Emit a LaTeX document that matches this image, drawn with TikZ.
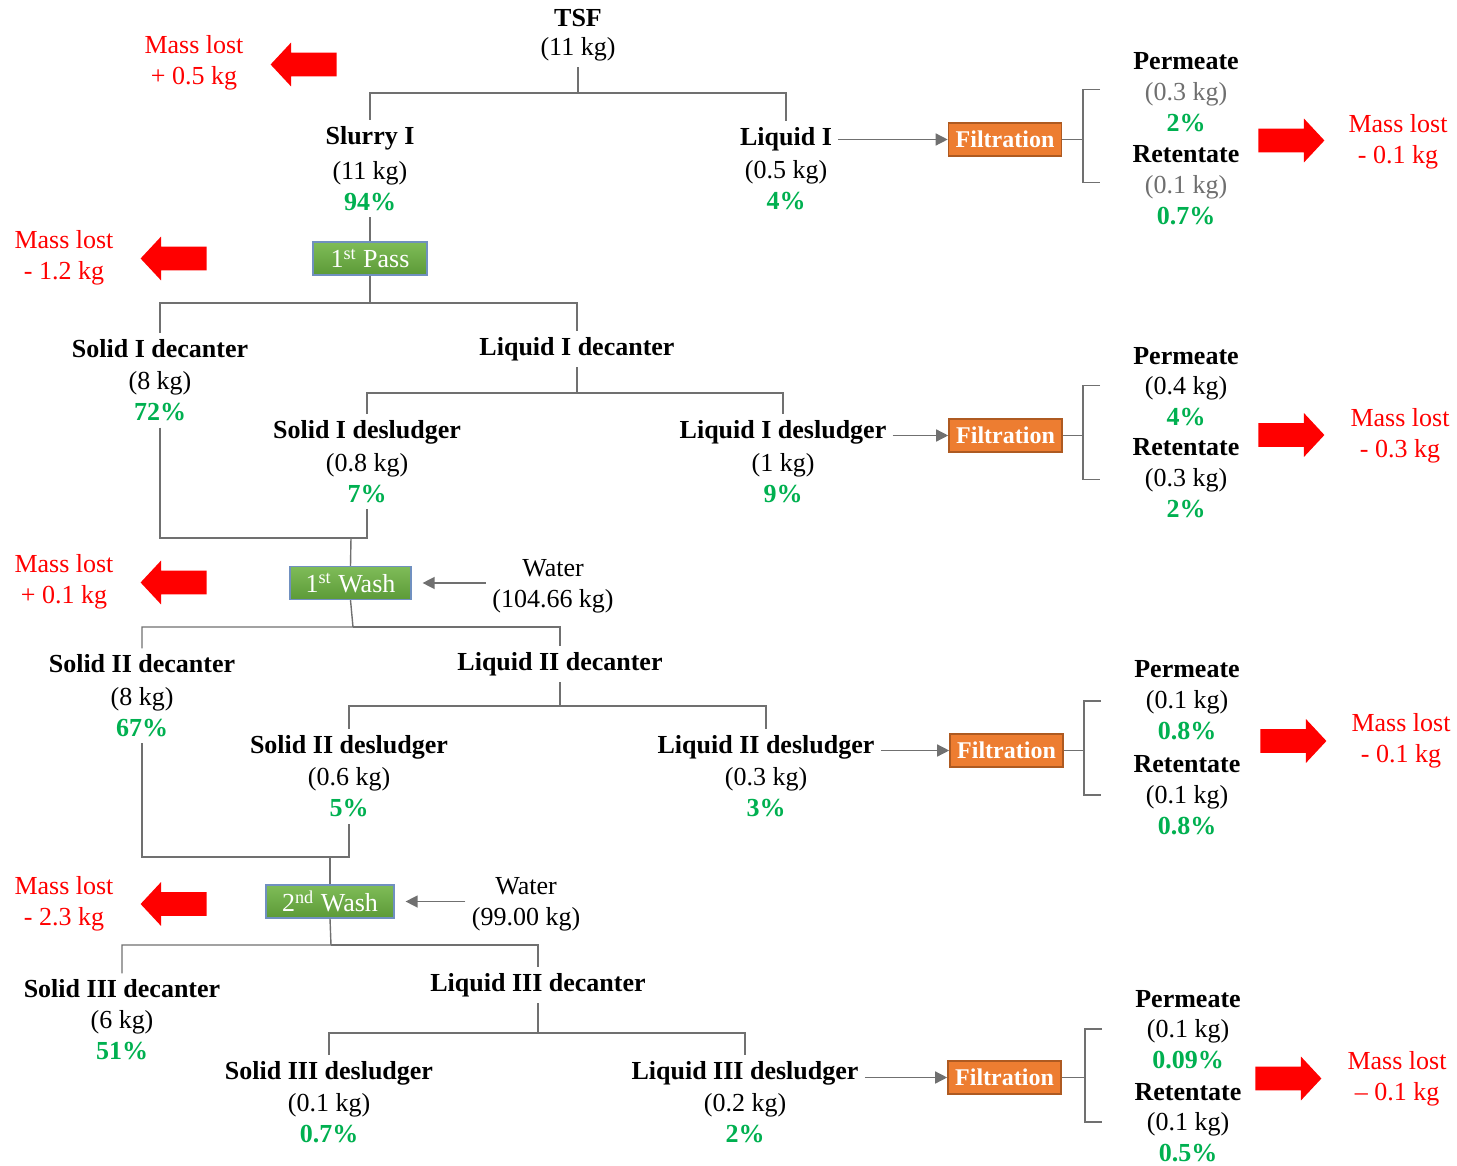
\documentclass[tikz,border=0pt]{standalone}
\usepackage{fontspec}
\setmainfont{Liberation Serif}
\usepackage{xcolor}
\usetikzlibrary{arrows.meta,positioning,shapes.arrows}
\definecolor{pctgreen}{HTML}{00B050}
\definecolor{lossred}{HTML}{FF0000}
\definecolor{linegray}{HTML}{707070}
\definecolor{kggray}{HTML}{6F6F6F}
\definecolor{passtop}{HTML}{7FBC58}
\definecolor{passbot}{HTML}{5C9A37}
\definecolor{passedge}{HTML}{7090C0}
\definecolor{filtorange}{HTML}{ED7D31}
\definecolor{filtedge}{HTML}{AE5A21}
\newcommand{\pctval}[1]{\textcolor{pctgreen}{\textbf{#1}}}

\begin{document}
\fontsize{13}{15.5}\selectfont
\begin{tikzpicture}[
  x=0.5pt, y=-0.5pt,
  link/.style={draw=linegray, line width=0.7pt},
  flow/.style={link, -{Triangle[length=6pt, width=6pt]}},
  stream/.style={font=\bfseries, inner sep=3pt},
  amount/.style={align=center, inner sep=3pt},
  stagebox/.style={rectangle, draw=passedge, line width=0.6pt, top color=passtop, bottom color=passbot, text=white, minimum height=16.5pt, inner sep=0pt},
  filtbox/.style={rectangle, draw=filtedge, line width=0.8pt, fill=filtorange, text=white, font=\fontsize{12}{14}\selectfont\bfseries, minimum width=56.5pt, minimum height=16.5pt, inner sep=0pt},
  losstext/.style={align=center, text=lossred, inner sep=2pt},
  lossright/.style={single arrow, fill=lossred, anchor=tail, inner xsep=0pt, inner ysep=5.75pt, minimum height=33pt, single arrow head extend=5pt, single arrow tip angle=94},
  lossleft/.style={lossright, shape border rotate=180}
]
\useasboundingbox (0,0) rectangle (1457,1166);

\node[stream] (tsf) at (578,18) {TSF};
\node[amount] (tsfv) at (578,49) {(11 kg)};
\coordinate (j0) at (578,93);
\node[stream] (slurry) at (370,138) {Slurry I};
\node[amount] (slurryv) at (370,186) {(11 kg)\\\pctval{94\%}};
\node[stagebox, minimum width=57pt] (pass1) at (370,258.5) {1\textsuperscript{st} Pass};
\node[stream] (liq1) at (786,139) {Liquid I};
\node[amount] (liq1v) at (786,185) {(0.5 kg)\\\pctval{4\%}};
\node[filtbox] (filt1) at (1005,139.5) {Filtration};
\coordinate (k1) at (1083,139.5);
\node[stream] (perm1) at (1186,61) {Permeate};
\node[amount, text=kggray] (perm1v) at (1186,107) {(0.3 kg)\\\pctval{2\%}};
\node[stream] (ret1) at (1186,154) {Retentate};
\node[amount, text=kggray] (ret1v) at (1186,200) {(0.1 kg)\\\pctval{0.7\%}};
\node[lossright] (out1) at (1258,140.5) {};
\node[losstext] (lost1) at (1398,142) {Mass lost\\- 0.1 kg};
\node[lossleft] (inA) at (337,64.5) {};
\node[losstext] (lostA) at (194,63) {Mass lost\\+ 0.5 kg};
\node[lossleft] (inB) at (207,258.5) {};
\node[losstext] (lostB) at (64,257.5) {Mass lost\\- 1.2 kg};

\node[stream] (sd1) at (160,349) {Solid I decanter};
\node[amount] (sd1v) at (160,396.5) {(8 kg)\\\pctval{72\%}};
\coordinate (j1) at (370,303);
\node[stream] (ld1) at (577,349) {Liquid I decanter};
\coordinate (j2) at (577,393);
\node[stream] (sds1) at (367,432) {Solid I desludger};
\node[amount] (sds1v) at (367,478) {(0.8 kg)\\\pctval{7\%}};
\node[stream] (lds1) at (783,432) {Liquid I desludger};
\node[amount] (lds1v) at (783,478.5) {(1 kg)\\\pctval{9\%}};
\node[filtbox] (filt2) at (1005.5,435.5) {Filtration};
\coordinate (k2) at (1083,435.5);
\node[stream] (perm2) at (1186,356) {Permeate};
\node[amount] (perm2v) at (1186,401) {(0.4 kg)\\\pctval{4\%}};
\node[stream] (ret2) at (1186,447) {Retentate};
\node[amount] (ret2v) at (1186,493) {(0.3 kg)\\\pctval{2\%}};
\node[lossright] (out2) at (1258,435) {};
\node[losstext] (lost2) at (1400,436) {Mass lost\\- 0.3 kg};

\coordinate (j3) at (351,538);
\node[stagebox, minimum width=60.5pt] (wash1) at (350.5,583) {1\textsuperscript{st} Wash};
\node[amount] (water1) at (553,586.5) {Water\\(104.66 kg)};
\node[lossleft] (inC) at (207,582.5) {};
\node[losstext] (lostC) at (64,582) {Mass lost\\+ 0.1 kg};
\coordinate (j4) at (353,627);
\node[stream] (sd2) at (142,664) {Solid II decanter};
\node[amount] (sd2v) at (142,712) {(8 kg)\\\pctval{67\%}};
\node[stream] (ld2) at (560,664) {Liquid II decanter};
\coordinate (j5) at (560,706);
\node[stream] (sds2) at (349,747) {Solid II desludger};
\node[amount] (sds2v) at (349,792.5) {(0.6 kg)\\\pctval{5\%}};
\node[stream] (lds2) at (766,747) {Liquid II desludger};
\node[amount] (lds2v) at (766,792) {(0.3 kg)\\\pctval{3\%}};
\node[filtbox] (filt3) at (1006.5,750.5) {Filtration};
\coordinate (k3) at (1084,750.5);
\node[stream] (perm3) at (1187,669) {Permeate};
\node[amount] (perm3v) at (1187,715.5) {(0.1 kg)\\\pctval{0.8\%}};
\node[stream] (ret3) at (1187,764) {Retentate};
\node[amount] (ret3v) at (1187,810.5) {(0.1 kg)\\\pctval{0.8\%}};
\node[lossright] (out3) at (1260,741) {};
\node[losstext] (lost3) at (1401,741) {Mass lost\\- 0.1 kg};

\coordinate (j6) at (330,857);
\node[stagebox, minimum width=64pt] (wash2) at (330,901.5) {2\textsuperscript{nd} Wash};
\node[amount] (water2) at (526,904.5) {Water\\(99.00 kg)};
\node[lossleft] (inD) at (207,904) {};
\node[losstext] (lostD) at (64,903.5) {Mass lost\\- 2.3 kg};
\coordinate (j7) at (331,945);
\node[stream] (sd3) at (122,989) {Solid III decanter};
\node[amount] (sd3v) at (122,1035) {(6 kg)\\\pctval{51\%}};
\node[stream] (ld3) at (538,985) {Liquid III decanter};
\coordinate (j8) at (538,1033);
\node[stream] (sds3) at (329,1073) {Solid III desludger};
\node[amount] (sds3v) at (329,1118.5) {(0.1 kg)\\\pctval{0.7\%}};
\node[stream] (lds3) at (745,1073) {Liquid III desludger};
\node[amount] (lds3v) at (745,1118) {(0.2 kg)\\\pctval{2\%}};
\node[filtbox] (filt4) at (1004.5,1077.5) {Filtration};
\coordinate (k4) at (1085,1077.5);
\node[stream] (perm4) at (1188,999) {Permeate};
\node[amount] (perm4v) at (1188,1044.5) {(0.1 kg)\\\pctval{0.09\%}};
\node[stream] (ret4) at (1188,1092) {Retentate};
\node[amount] (ret4v) at (1188,1137) {(0.1 kg)\\\pctval{0.5\%}};
\node[lossright] (out4) at (1255,1078.5) {};
\node[losstext] (lost4) at (1397,1079) {Mass lost\\\textendash{} 0.1 kg};

\draw[link] (tsfv.south) -- (j0) -| (slurry.north);
\draw[link] (j0) -| (liq1.north);
\draw[link] (slurryv.south) -- (pass1.north);
\draw[flow] (liq1.east |- filt1.west) -- (filt1.west);
\draw[link] (filt1.east) -- (k1);
\draw[link] (k1) ++(17,-50) -- ++(-17,0) -- ++(0,93) -- ++(17,0);

\draw[link] (pass1.south) -- (j1) -| (sd1.north);
\draw[link] (j1) -| (ld1.north);
\draw[link] (ld1.south) -- (j2) -| (sds1.north);
\draw[link] (j2) -| (lds1.north);
\draw[flow] (lds1.east |- filt2.west) -- (filt2.west);
\draw[link] (filt2.east) -- (k2);
\draw[link] (k2) ++(17,-50) -- ++(-17,0) -- ++(0,94) -- ++(17,0);

\draw[link] (sd1v.south) |- (j3) -| (sds1v.south);
\draw[link] (j3) -- (wash1.north);
\draw[flow, shorten >=5.5pt] (water1.west |- wash1.east) -- (wash1.east);
\draw[link] (wash1.south) -- (j4) -| (sd2.north);
\draw[link] (j4) -| (ld2.north);
\draw[link] (ld2.south) -- (j5) -| (sds2.north);
\draw[link] (j5) -| (lds2.north);
\draw[flow] (lds2.east |- filt3.west) -- (filt3.west);
\draw[link] (filt3.east) -- (k3);
\draw[link] (k3) ++(17,-49.5) -- ++(-17,0) -- ++(0,94) -- ++(17,0);

\draw[link] (sd2v.south) |- (j6) -| (sds2v.south);
\draw[link] (j6) -- (wash2.north);
\draw[flow, shorten >=5.5pt] (water2.west |- wash2.east) -- (wash2.east);
\draw[link] (wash2.south) -- (j7) -| (sd3.north);
\draw[link] (j7) -| (ld3.north);
\draw[link] (ld3.south) -- (j8) -| (sds3.north);
\draw[link] (j8) -| (lds3.north);
\draw[flow] (lds3.east |- filt4.west) -- (filt4.west);
\draw[link] (filt4.east) -- (k4);
\draw[link] (k4) ++(17,-48.5) -- ++(-17,0) -- ++(0,93) -- ++(17,0);
\end{tikzpicture}
\end{document}
